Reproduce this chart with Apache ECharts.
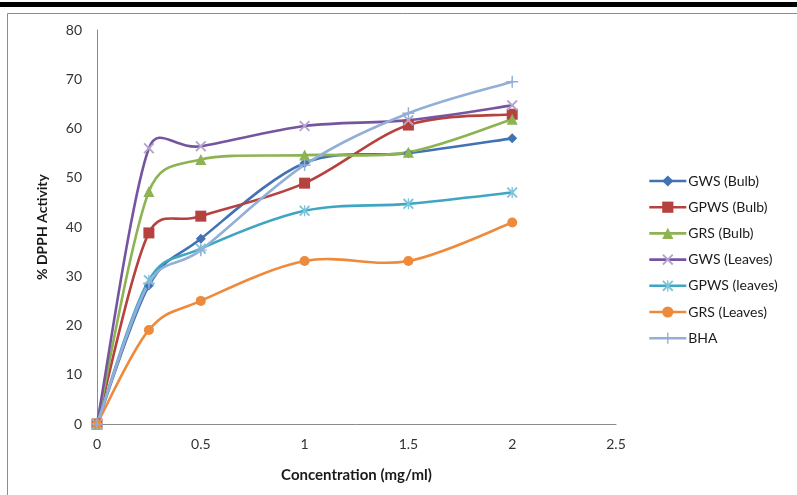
<!DOCTYPE html>
<html>
<head>
<meta charset="utf-8">
<script src="https://cdn.jsdelivr.net/npm/echarts@6/dist/echarts.min.js"></script>
<style>html,body{margin:0;padding:0;background:#fff;}#c{width:797px;height:495px;}</style>
</head>
<body>
<div id="c"></div>
<script>
var concentrations = [0, 0.25, 0.5, 1, 1.5, 2];
var seriesNames = ['GWS (Bulb)', 'GPWS (Bulb)', 'GRS (Bulb)', 'GWS (Leaves)', 'GPWS (leaves)', 'GRS (Leaves)', 'BHA'];
var gwsBulb     = [0, 28.1, 37.6, 53.0, 55.0, 58.0];
var gpwsBulb    = [0, 38.8, 42.2, 48.9, 60.7, 62.9];
var grsBulb     = [0, 47.2, 53.7, 54.6, 55.2, 61.9];
var gwsLeaves   = [0, 56.0, 56.4, 60.5, 61.7, 64.7];
var gpwsLeaves  = [0, 29.2, 35.6, 43.3, 44.7, 47.0];
var grsLeaves   = [0, 19.1, 25.0, 33.1, 33.1, 40.9];
var bha         = [0, 28.6, 35.3, 52.6, 63.1, 69.5];
var yTicks = [0, 10, 20, 30, 40, 50, 60, 70, 80];
var xTicks = [0, 0.5, 1, 1.5, 2, 2.5];

var allValues = [gwsBulb, gpwsBulb, grsBulb, gwsLeaves, gpwsLeaves, grsLeaves, bha];
var lineColors = ['#4272B4', '#B6423F', '#8DB352', '#7555A0', '#3EA6C2', '#EE8A3C', '#92AFD8'];
var markColors = ['#4272B4', '#B6423F', '#8DB352', '#B4A4CC', '#7CC4DA', '#EE8A3C', '#92AFD8'];
var xPath = 'path://M0,1.2 L1.2,0 L10,8.8 L8.8,10 Z M8.8,0 L10,1.2 L1.2,10 L0,8.8 Z';
var starPath = 'path://M0,1.2 L1.2,0 L10,8.8 L8.8,10 Z M8.8,0 L10,1.2 L1.2,10 L0,8.8 Z M4.4,0 L5.6,0 L5.6,10 L4.4,10 Z';
var plusPath = 'path://M4.4,0 L5.6,0 L5.6,10 L4.4,10 Z M0,4.4 L10,4.4 L10,5.6 L0,5.6 Z';
var symbols = ['diamond', 'rect', 'triangle', xPath, starPath, 'circle', plusPath];
var sizes = [10, 11, 11, 11, 11, 10, 12];
var LINE_W = 2.6;

var font = 'Lato, "Liberation Sans", sans-serif';

// Excel-like smoothed curve (Catmull-Rom 1/6 handles, each clamped to half of its segment),
// drawn in pixel space obtained from the axis scales via api.coord.
function makeCurveRenderer(vals, color) {
  return function (params, api) {
    var i = params.dataIndex;
    var n = vals.length;
    if (i >= n - 1) return null;
    var P = function (k) {
      k = Math.max(0, Math.min(n - 1, k));
      return api.coord([concentrations[k], vals[k]]);
    };
    function handles(k) {
      var p = P(k), pr = P(k - 1), nx = P(k + 1);
      var vx = (nx[0] - pr[0]) / 6, vy = (nx[1] - pr[1]) / 6;
      var vl = Math.hypot(vx, vy) || 1;
      var l0 = Math.hypot(p[0] - pr[0], p[1] - pr[1]);
      var l1 = Math.hypot(nx[0] - p[0], nx[1] - p[1]);
      var fin = Math.min(1, (l0 / 2) / vl);
      var fout = Math.min(1, (l1 / 2) / vl);
      return {
        inn: [p[0] - vx * fin, p[1] - vy * fin],
        out: [p[0] + vx * fout, p[1] + vy * fout]
      };
    }
    var a = P(i), b = P(i + 1);
    var h0 = handles(i), h1 = handles(i + 1);
    return {
      type: 'bezierCurve',
      shape: { x1: a[0], y1: a[1], x2: b[0], y2: b[1],
               cpx1: h0.out[0], cpy1: h0.out[1], cpx2: h1.inn[0], cpy2: h1.inn[1] },
      style: { stroke: color, lineWidth: LINE_W, fill: null, lineCap: 'round' },
      silent: true
    };
  };
}

var series = [];
allValues.forEach(function (vals, i) {
  var pts = concentrations.map(function (c, j) { return [c, vals[j]]; });
  series.push({
    type: 'custom',
    name: '_curve' + i,
    renderItem: makeCurveRenderer(vals, lineColors[i]),
    data: pts,
    encode: { x: 0, y: 1 },
    clip: false,
    silent: true
  });
  series.push({
    name: seriesNames[i],
    type: 'line',
    symbol: symbols[i],
    symbolSize: sizes[i],
    showAllSymbol: true,
    data: pts,
    lineStyle: { color: lineColors[i], width: LINE_W, opacity: 0 },
    itemStyle: { color: markColors[i], borderWidth: 0 },
    emphasis: { disabled: true }
  });
});

var chart = echarts.init(document.getElementById('c'), null, { renderer: 'canvas' });
chart.setOption({
  animation: false,
  backgroundColor: '#fff',
  textStyle: { fontFamily: font },
  graphic: [
    { type: 'rect', shape: { x: 0, y: 2, width: 797, height: 5 }, style: { fill: '#000' }, silent: true },
    { type: 'rect', shape: { x: 7.5, y: 13.5, width: 820, height: 520 }, style: { fill: 'none', stroke: '#8c8c8c', lineWidth: 1 }, silent: true }
  ],
  grid: { left: 97, right: 181, top: 30, bottom: 71 },
  legend: {
    orient: 'vertical',
    left: 643,
    top: 169,
    itemWidth: 37,
    itemHeight: 14,
    itemGap: 12.2,
    textStyle: { fontFamily: font, fontSize: 14, color: '#1a1a1a', padding: [0, 0, 0, -3] },
    data: seriesNames.map(function (nm, i) {
      return { name: nm, lineStyle: { color: lineColors[i], width: LINE_W, opacity: 1 } };
    })
  },
  xAxis: {
    type: 'value',
    min: 0, max: 2.5, interval: 0.5,
    name: 'Concentration (mg/ml)',
    nameLocation: 'middle',
    nameGap: 44,
    nameTextStyle: { fontFamily: font, fontSize: 15, fontWeight: 'bold', color: '#1a1a1a' },
    axisLine: { lineStyle: { color: '#8a8a8a', width: 1 } },
    axisTick: { show: false },
    splitLine: { show: false },
    axisLabel: { fontFamily: font, fontSize: 14, color: '#333', margin: 13,
      formatter: function (v) { return xTicks.indexOf(v) >= 0 ? String(v) : ''; } }
  },
  yAxis: {
    type: 'value',
    min: 0, max: 80, interval: 10,
    name: '% DPPH Activity',
    nameLocation: 'middle',
    nameGap: 48,
    nameRotate: 90,
    nameTextStyle: { fontFamily: font, fontSize: 14, fontWeight: 'bold', color: '#1a1a1a' },
    axisLine: { show: true, lineStyle: { color: '#8a8a8a', width: 1 } },
    axisTick: { show: false },
    splitLine: { show: false },
    axisLabel: { fontFamily: font, fontSize: 14, color: '#333', margin: 15,
      formatter: function (v) { return yTicks.indexOf(v) >= 0 ? String(v) : ''; } }
  },
  series: series
});
</script>
</body>
</html>
